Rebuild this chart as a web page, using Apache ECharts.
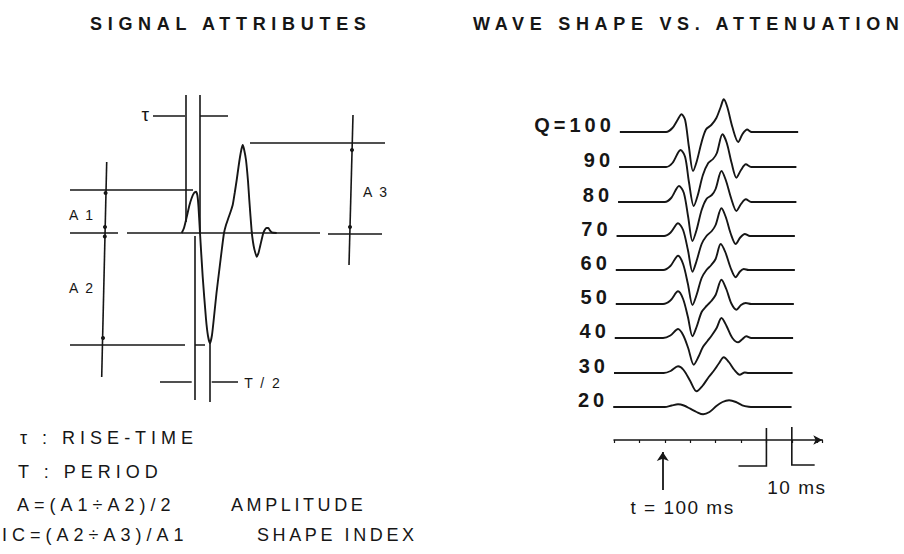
<!DOCTYPE html>
<html>
<head>
<meta charset="utf-8">
<script src="https://cdn.jsdelivr.net/npm/echarts@6.0.0/dist/echarts.min.js"></script>
<style>
  html, body { margin: 0; padding: 0; background: #fff; }
  #chart { width: 904px; height: 554px; }
  /* tracking for the typewriter-style lettering (SVG text honours CSS letter-spacing) */
  #chart text { letter-spacing: 5px; }
  #chart text[style*="bold"][style*="18px"] { letter-spacing: 5.7px; }
  #chart text[style*="Helvetica"] { letter-spacing: 3.6px; }
  #chart text[style*="20px"] { letter-spacing: 4px; }
  #chart text[style*="19px"] { letter-spacing: 1.5px; }
  #chart text[style*="14px"] { letter-spacing: 2px; }
</style>
</head>
<body>
<div id="chart"></div>
<script>
// ---------- left panel: idealised wavelet with its measurement guides ----------
// drawing units: x to the right, y = amplitude above the zero line
const pulse = [
  [121.7, 0], [124, 5], [126.7, 16], [129.5, 28], [131.7, 35], [134, 40], [136, 41.3],
  [137.5, 37], [138.5, 26], [140, 0], [142.7, -43.7], [146, -86], [148, -103], [150, -110.3],
  [152, -102], [154, -84], [156.5, -60], [159.3, -37], [162, -15], [164, 0], [166, 8],
  [168.3, 14.7], [170.5, 21], [172.7, 28], [174.7, 40], [176.7, 53], [178.5, 66], [180, 76],
  [181.5, 84], [182.7, 88], [184, 84], [186, 73], [188, 52], [189.3, 33], [191.7, 1.3],
  [193, -9], [194.3, -16], [196.7, -23.7], [198.5, -20], [200, -13.7], [201.8, -6], [203.3, 0],
  [205, 3.5], [206.5, 5], [208.3, 5], [210, 2.5], [211.7, 0.7], [216.7, 0]
];

// zero line, A1 / A2 / A3 levels, rise-time and half-period brackets
const guideSegments = [
  [[10, 0], [58, 0]],
  [[67, 0], [260, 0]],
  [[268, -1], [322, -1]],
  [[10, 43], [133, 43]],
  [[10, -112], [125, -112]],
  [[135, -112], [145, -112]],
  [[190, 90], [325, 90]],
  [[46.7, 71], [41.7, -144]],
  [[293, 118], [289, -32]],
  [[126, 138], [126, 11]],
  [[140, 138], [140, 0]],
  [[93, 117], [125, 117]],
  [[140, 117], [168, 117]],
  [[135, -3], [135, -167]],
  [[149.5, -110], [149.5, -169]],
  [[100, -149], [131.7, -149]],
  [[151.7, -149], [178, -149]]
];
const guideDots = [[45.6, 40], [45, 6], [44.8, -3.5], [43, -105], [292, 83], [290, 6]];
const guideLabels = [
  { name: 'A 1', value: [22, 18] },
  { name: 'A 2', value: [22, -55] },
  { name: 'A 3', value: [316, 41] },
  { name: 'T / 2', value: [203, -150] }
];
const riseLabel = { name: 'τ', value: [86, 119] };

// ---------- right panel: wavelet for decreasing Q ----------
// time in ms, amplitude in trace units; each trace sits on its own baseline
const qLevels = [100, 90, 80, 70, 60, 50, 40, 30, 20];
const traceBaselines = [308, 273, 238, 204, 170, 136, 102, 67, 33];

const traceQ100 = [[82.3,0],[100.5,0],[103,4],[105,12],[106.6,17.7],[108,12],[109.5,-15],[111.1,-39],[112.5,-30],[114.5,-10],[116.2,2.5],[118.3,7],[120.3,14],[122,25],[123.2,32.7],[124.6,25],[126.6,5],[128.9,-10],[130.6,-2],[132.4,2.5],[134.2,0],[152.5,0]];
const traceQ90  = [[82,0],[100.5,0],[103,4],[106.2,17],[108,10],[109.5,-15],[111.4,-39],[113,-28],[115,-8],[117.1,4],[119,8],[120.5,14],[122.7,32.7],[124.4,24],[126.3,4],[128.2,-10.7],[130,-3],[131.9,2.7],[134,0],[151.8,0]];
const traceQ80  = [[81.6,0],[100,0],[102.5,4],[105.6,16],[107.5,9],[109.2,-15],[110.9,-39],[112.5,-28],[114.5,-8],[116.4,3],[118.5,7],[120,13],[122.3,31],[124,22],[126.2,3],[128.2,-9],[130,-2],[131.9,2.7],[134,0],[151.8,0]];
const traceQ70  = [[81,0],[99.7,0],[102.3,3.5],[105.2,12.7],[107.2,6],[109.1,-14],[110.9,-35.7],[112.5,-25],[114.5,-8],[116.4,0],[118.5,5],[120,11],[122.3,27.7],[124,19],[126,2],[127.9,-8],[129.7,-1.5],[131.5,2],[133.5,0],[151.2,0]];
const traceQ60  = [[80.7,0],[99.4,0],[102.2,4],[105.2,14.3],[107.2,6],[109.1,-14],[110.9,-35],[112.5,-25],[114.5,-8],[116.4,0],[118.3,5],[120,11],[122,26],[123.8,18],[126,1.5],[127.9,-7.3],[129.6,-1.5],[131.1,1],[133,0],[151.2,0]];
const traceQ50  = [[80.7,0],[99.3,0],[102.2,3.5],[105.2,12.7],[107.2,5],[109.1,-13],[110.9,-32.3],[112.5,-23],[114.5,-8],[116.4,-2],[118.3,3],[120,9],[122.3,24.3],[124.2,15],[126.2,0.5],[128.2,-5.7],[130,-1],[131.9,1],[134,0],[150.8,0]];
const traceQ40  = [[80.3,0],[99.3,0],[102.2,2.5],[105.2,9],[107.2,3],[109.2,-10],[111.4,-26.7],[113.2,-19],[115,-9],[116.8,-3],[118.6,3],[120.4,10],[122.3,20],[124.3,12],[126.6,0],[128.9,-4.3],[130.6,-1],[132.1,1.7],[134,0],[150.5,0]];
const traceQ30  = [[80,0],[99.6,0],[102.3,2],[105.2,6.7],[107.4,3],[110,-8],[112.5,-18.3],[114.8,-13],[117.3,-4],[119.5,3],[121.4,10],[123.2,15.7],[125.2,11],[127.4,3],[129.5,-1.7],[131.5,0.5],[133,0],[150.3,0]];
const traceQ20  = [[79.7,0],[100,0],[102.7,1.5],[105.2,2.7],[107.5,1.5],[110,-1.7],[112.5,-5],[115.1,-7.3],[117.6,-5],[120.3,1],[122.7,5],[125.3,6.7],[128,5],[130.5,1.7],[133,0.3],[135,0],[149.9,0]];
const traces = [traceQ100, traceQ90, traceQ80, traceQ70, traceQ60, traceQ50, traceQ40, traceQ30, traceQ20];

// time axis (ms), the 10 ms scale bar and the t = 100 ms onset marker
const timeMin = 80, timeMax = 162, timeStep = 10;
const scaleBar = [[[140, 12], [140, -26], [129, -26]], [[150, 13], [150, -25], [159, -25]]];
const onsetArrow = [[99.2, -50], [99.2, -12]];
const timeLabels = [
  { name: '10 ms', value: [152, -47] },
  { name: 't = 100 ms', value: [107, -67] }
];

// ---------- lettering ----------
const titleLeft = 'SIGNAL ATTRIBUTES';
const titleRight = 'WAVE SHAPE VS. ATTENUATION';
const legendRows = [
  ['τ : RISE-TIME', ''],
  ['T : PERIOD', ''],
  ['A=(A1÷A2)/2', 'AMPLITUDE'],
  ['IC=(A2÷A3)/A1', 'SHAPE INDEX']
];

const ink = '#161616';
const font = '"Liberation Sans", Arial, sans-serif';
const fontDesc = '"Liberation Sans", Helvetica, sans-serif';

const chart = echarts.init(document.getElementById('chart'), null, { renderer: 'svg' });

const traceSeries = traces.map((tr, i) => ({
  type: 'line',
  xAxisIndex: 1, yAxisIndex: 1,
  data: tr.map(p => [p[0], traceBaselines[i] + p[1]]),
  smooth: 0.3,
  symbol: 'none',
  clip: false,
  silent: true,
  lineStyle: { color: ink, width: 1.9 }
}));

const legendGraphics = [];
const rowY = [438, 472, 505, 535];
const rowX = [20, 18, 17, 2];
const descX = [0, 0, 231, 257];
legendRows.forEach((row, i) => {
  legendGraphics.push({
    type: 'text', x: rowX[i], y: rowY[i],
    style: { text: row[0], font: '18px ' + font, fill: ink, align: 'left', verticalAlign: 'middle' }
  });
  if (row[1]) {
    legendGraphics.push({
      type: 'text', x: descX[i], y: rowY[i],
      style: { text: row[1], font: '18px ' + fontDesc, fill: ink, align: 'left', verticalAlign: 'middle' }
    });
  }
});

const labelScatter = {
  type: 'scatter', clip: false, symbolSize: 0, silent: true,
  itemStyle: { color: ink, opacity: 1 }
};

chart.setOption({
  animation: false,
  backgroundColor: '#fff',
  grid: [
    { left: 60, top: 83, width: 340, height: 330 },
    { left: 614, top: 90, width: 208.3, height: 420 }
  ],
  xAxis: [
    { gridIndex: 0, type: 'value', min: 0, max: 340, show: false },
    {
      gridIndex: 1, type: 'value', min: timeMin, max: timeMax, interval: timeStep,
      axisLine: { show: true, onZero: true, symbol: ['none', 'arrow'], symbolSize: [7, 9],
        lineStyle: { color: ink, width: 1.5 } },
      axisTick: { show: true, length: 3, lineStyle: { color: ink, width: 1.2 } },
      axisLabel: { show: false },
      splitLine: { show: false }
    }
  ],
  yAxis: [
    { gridIndex: 0, type: 'value', min: -180, max: 150, show: false },
    { gridIndex: 1, type: 'value', min: -70, max: 350, show: false }
  ],
  graphic: [
    { type: 'text', x: 90, y: 24,
      style: { text: titleLeft, font: 'bold 18px ' + font, fill: ink, align: 'left', verticalAlign: 'middle' } },
    { type: 'text', x: 473, y: 24,
      style: { text: titleRight, font: 'bold 18px ' + font, fill: ink, align: 'left', verticalAlign: 'middle' } }
  ].concat(legendGraphics),
  series: [
    {
      type: 'line', xAxisIndex: 0, yAxisIndex: 0, data: pulse,
      smooth: 0.2, symbol: 'none', clip: false, silent: true,
      lineStyle: { color: ink, width: 1.9 }, z: 3
    },
    {
      type: 'lines', coordinateSystem: 'cartesian2d', xAxisIndex: 0, yAxisIndex: 0,
      polyline: false, silent: true, symbol: 'none',
      data: guideSegments.map(c => ({ coords: c })),
      lineStyle: { color: ink, width: 1.6, opacity: 1, curveness: 0 }
    },
    {
      type: 'scatter', xAxisIndex: 0, yAxisIndex: 0, data: guideDots, clip: false,
      symbolSize: 4, silent: true, itemStyle: { color: ink, opacity: 1 }
    },
    Object.assign({}, labelScatter, {
      xAxisIndex: 0, yAxisIndex: 0, data: guideLabels,
      label: { show: true, position: 'inside', formatter: '{b}', fontSize: 14,
        fontFamily: font, color: ink }
    }),
    Object.assign({}, labelScatter, {
      xAxisIndex: 0, yAxisIndex: 0, data: [riseLabel],
      label: { show: true, position: 'inside', formatter: '{b}', fontSize: 19,
        fontFamily: font, color: ink }
    })
  ].concat(traceSeries).concat([
    Object.assign({}, labelScatter, {
      xAxisIndex: 1, yAxisIndex: 1,
      data: qLevels.map((q, i) => ({
        name: i === 0 ? 'Q=' + q : String(q),
        value: [traces[i][0][0], traceBaselines[i]]
      })),
      label: { show: true, position: 'left', distance: 5, offset: [0, -7], formatter: '{b}',
        fontSize: 20, fontWeight: 'bold', fontFamily: font, color: ink }
    }),
    {
      type: 'lines', coordinateSystem: 'cartesian2d', xAxisIndex: 1, yAxisIndex: 1,
      polyline: true, silent: true, symbol: 'none',
      data: scaleBar.map(c => ({ coords: c })),
      lineStyle: { color: ink, width: 1.6, opacity: 1 }
    },
    {
      type: 'lines', coordinateSystem: 'cartesian2d', xAxisIndex: 1, yAxisIndex: 1,
      polyline: false, silent: true, symbol: ['none', 'arrow'], symbolSize: 9,
      data: [{ coords: onsetArrow }],
      lineStyle: { color: ink, width: 1.8, opacity: 1 }
    },
    Object.assign({}, labelScatter, {
      xAxisIndex: 1, yAxisIndex: 1, data: timeLabels,
      label: { show: true, position: 'inside', formatter: '{b}', fontSize: 19,
        fontFamily: font, color: ink }
    })
  ])
});
</script>
</body>
</html>
